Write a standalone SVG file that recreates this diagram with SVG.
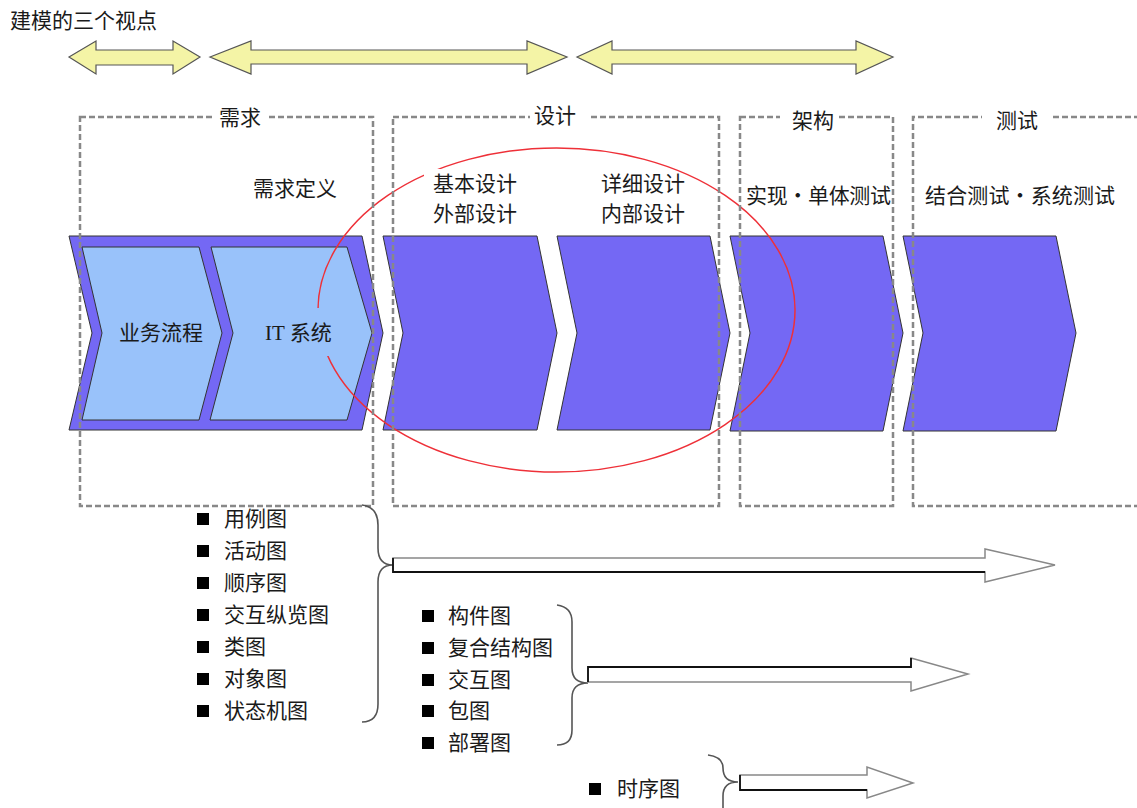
<svg xmlns="http://www.w3.org/2000/svg" width="1137" height="808" viewBox="0 0 1137 808">
<style>
text{font-family:"Liberation Serif","Noto Sans CJK SC",serif;font-size:21px;fill:#1a1a1a;dominant-baseline:central}
.yarrow{fill:#f4f4a6;stroke:#555;stroke-width:1.2}
.chev{fill:#7468f4;stroke:#333;stroke-width:1}
.inner{fill:#99c2fa;stroke:#333;stroke-width:1}
.box{fill:none;stroke:#888;stroke-width:2.5;stroke-dasharray:6 3}
.brace{fill:none;stroke:#555;stroke-width:1.6}
.harrow{fill:#fff;stroke:#888;stroke-width:1.5}
.dark{stroke:#111;stroke-width:1.8;fill:none}
.bullet{fill:#000}
</style>

<text x="10" y="21">建模的三个视点</text>

<g id="views">
<polygon class="yarrow" points="69,57 96,41 96,50 173,50 173,41 200,57 173,74 173,65 96,65 96,74"/>
<polygon class="yarrow" points="210,57 251,41 251,50 527,50 527,41 567,57 527,74 527,64 251,64 251,74"/>
<polygon class="yarrow" points="577,57 612,41 612,50 856,50 856,41 893,57 856,74 856,64 612,64 612,74"/>
</g>

<g id="chevrons">
<g id="req-chevron">
<polygon class="chev" points="69,236 362,236 383,333 362,430 69,430 92,333"/>
<polygon class="inner" points="82,247 199,247 222,333 199,420 82,420 102,333"/>
<polygon class="inner" points="211,247 347,247 372,333 347,420 210,420 233,333"/>
</g>
<polygon id="basic-design" class="chev" points="383,236 537,236 557,333 537,430 383,430 403,333"/>
<polygon id="detail-design" class="chev" points="557,236 710,236 730,333 710,430 557,430 577,333"/>
<polygon id="impl" class="chev" points="730,236 883,236 903,333 883,431 730,431 750,333"/>
<polygon id="test" class="chev" points="903,236 1056,236 1076,333 1056,431 903,431 923,333"/>
</g>

<ellipse id="focus" cx="556.5" cy="310" rx="238.5" ry="162" fill="none" stroke="#ee3038" stroke-width="1.5"/>

<g id="phases">
<rect class="box" x="80" y="117" width="293" height="389"/>
<rect class="box" x="393" y="117" width="326" height="389"/>
<rect class="box" x="740" y="117" width="153" height="389"/>
<path class="box" d="M1140,117 L913,117 L913,506 L1140,506"/>
<rect x="213" y="105" width="55" height="24" fill="#fff"/>
<rect x="530" y="105" width="58" height="24" fill="#fff"/>
<rect x="780" y="105" width="58" height="24" fill="#fff"/>
<rect x="982" y="105" width="71" height="24" fill="#fff"/>
<text x="240" y="118" text-anchor="middle">需求</text>
<text x="555" y="116" text-anchor="middle">设计</text>
<text x="813" y="121" text-anchor="middle">架构</text>
<text x="1017" y="121" text-anchor="middle">测试</text>
</g>

<g id="labels">
<text x="253" y="189">需求定义</text>
<rect x="424" y="169" width="96" height="56" fill="#fff"/>
<text x="433" y="184">基本设计</text>
<text x="433" y="214">外部设计</text>
<text x="601" y="184">详细设计</text>
<text x="601" y="214">内部设计</text>
<text x="746" y="196" textLength="145">实现・单体测试</text>
<text x="925" y="196" textLength="190">结合测试・系统测试</text>
<text x="119" y="333">业务流程</text>
<rect x="262" y="308" width="74" height="48" fill="#99c2fa"/>
<text x="265" y="333">IT 系统</text>
</g>

<g id="list1">
<rect class="bullet" x="197" y="513" width="12" height="12"/><text x="224" y="519">用例图</text>
<rect class="bullet" x="197" y="545" width="12" height="12"/><text x="224" y="551">活动图</text>
<rect class="bullet" x="197" y="577" width="12" height="12"/><text x="224" y="583">顺序图</text>
<rect class="bullet" x="197" y="609" width="12" height="12"/><text x="224" y="615">交互纵览图</text>
<rect class="bullet" x="197" y="641" width="12" height="12"/><text x="224" y="647">类图</text>
<rect class="bullet" x="197" y="673" width="12" height="12"/><text x="224" y="679">对象图</text>
<rect class="bullet" x="197" y="705" width="12" height="12"/><text x="224" y="711">状态机图</text>
</g>

<g id="list2">
<rect class="bullet" x="422" y="610" width="12" height="12"/><text x="448" y="616">构件图</text>
<rect class="bullet" x="422" y="642" width="12" height="12"/><text x="448" y="648">复合结构图</text>
<rect class="bullet" x="422" y="674" width="12" height="12"/><text x="448" y="680">交互图</text>
<rect class="bullet" x="422" y="705" width="12" height="12"/><text x="448" y="711">包图</text>
<rect class="bullet" x="422" y="737" width="12" height="12"/><text x="448" y="743">部署图</text>
</g>

<g id="list3">
<rect class="bullet" x="589" y="783" width="12" height="12"/><text x="617" y="789">时序图</text>
</g>

<g id="connectors">
<path class="brace" d="M362,505 Q378,507 378,525 L378,548 Q378,565 393,565 Q378,565 378,582 L378,704 Q378,722 362,722"/>
<polygon class="harrow" points="393,558 985,558 985,549 1055,565 985,582 985,572 393,572"/>
<path class="dark" d="M393,558 L393,572 L985,572"/>

<path class="brace" d="M557,605 Q572,607 572,622 L572,668 Q572,683 588,683 Q572,683 572,698 L572,730 Q572,745 557,745"/>
<polygon class="harrow" points="588,667 911,667 911,658 968,674 911,691 911,682 588,682"/>
<path class="dark" d="M588,682 L588,667 L911,667 L911,658"/>

<path class="brace" d="M708,755 Q723,757 723,768 Q723,782 738,782 Q723,782 723,796 L723,810"/>
<polygon class="harrow" points="740,775 867,775 867,767 913,783 867,798 867,790 740,790"/>
<path class="dark" d="M740,775 L740,790 L867,790"/>
</g>
</svg>
